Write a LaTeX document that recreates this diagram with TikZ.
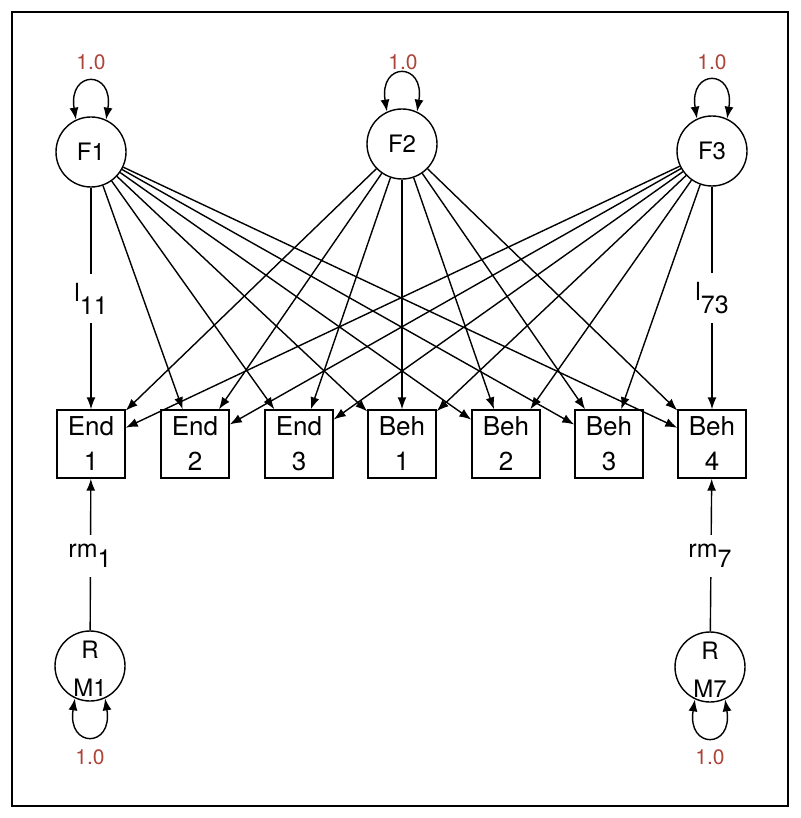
\documentclass[tikz,border=0pt]{standalone}
\usepackage{fontspec}
\setmainfont{TeX Gyre Heros}
\usetikzlibrary{arrows.meta,calc}
\definecolor{lblred}{RGB}{172,68,58}
\begin{document}
\begin{tikzpicture}[x=1pt,y=-1pt,line width=1.4pt,
  >={Latex[length=12pt,width=9pt]},
  latent/.style={draw, circle, minimum size=70pt, inner sep=0pt, font=\fontsize{24}{28}\selectfont},
  latenttext/.style={align=center, inner sep=0pt, font=\fontsize{24}{38}\selectfont},
  obs/.style={draw, rectangle, minimum width=68pt, minimum height=68pt, inner sep=0pt, align=center, font=\fontsize{26}{35}\selectfont},
  varlbl/.style={text=lblred, inner sep=0pt, font=\fontsize{21}{24}\selectfont},
  pathlbl/.style={fill=white, inner xsep=2pt, inner ysep=9pt, font=\fontsize{25}{30}\selectfont},
  frame/.style={draw, line width=2.5pt}
]
\useasboundingbox (0,0) rectangle (800,818);
\draw[frame] (12,12) rectangle (788,806);

% latent factors
\node[latent] (F1) at (91,152) {F1};
\node[latent] (F2) at (402,144) {F2};
\node[latent] (F3) at (712,151) {F3};

% observed
\node[obs] (E1) at (91,444) {End\\1};
\node[obs] (E2) at (195,444) {End\\2};
\node[obs] (E3) at (299,444) {End\\3};
\node[obs] (B1) at (402,444) {Beh\\1};
\node[obs] (B2) at (506,444) {Beh\\2};
\node[obs] (B3) at (609,444) {Beh\\3};
\node[obs] (B4) at (712,444) {Beh\\4};

% residual factors
\node[latent] (R1) at (90,666) {};
\node[latenttext] (R1t) at (90,669) {R\\M1};
\node[latent] (R7) at (710,667) {};
\node[latenttext] (R7t) at (710,670) {R\\M7};

% loadings
\foreach \f in {F1,F2,F3}
  \foreach \o in {E1,E2,E3,B1,B2,B3,B4}
    \draw[->] (\f) -- (\o);

\draw[->] (R1) -- (E1);
\draw[->] (R7) -- (B4);

% path labels
\node[pathlbl] (l11) at ($(F1.south)!0.5!(E1.north)$) {l\raisebox{-13pt}{11}};
\node[pathlbl] (l73) at ($(F3.south)!0.5!(B4.north)$) {l\raisebox{-13pt}{73}};
\node[pathlbl] (rm1) at (90,556) {rm\raisebox{-10pt}{1}};
\node[pathlbl] (rm7) at (710,556) {rm\raisebox{-10pt}{7}};

% variance loops
\foreach \n in {F1,F2,F3}
  \draw[<->] (\n.115) .. controls +(-8,-50) and +(8,-50) .. (\n.65);
\foreach \n in {R1,R7}
  \draw[<->] (\n.245) .. controls +(-8,50) and +(8,50) .. (\n.295);

\node[varlbl] (v1) at (91,62) {1.0};
\node[varlbl] (v2) at (403,62) {1.0};
\node[varlbl] (v3) at (712,62) {1.0};
\node[varlbl] (v4) at (90,757) {1.0};
\node[varlbl] (v5) at (710,757) {1.0};
\end{tikzpicture}
\end{document}
